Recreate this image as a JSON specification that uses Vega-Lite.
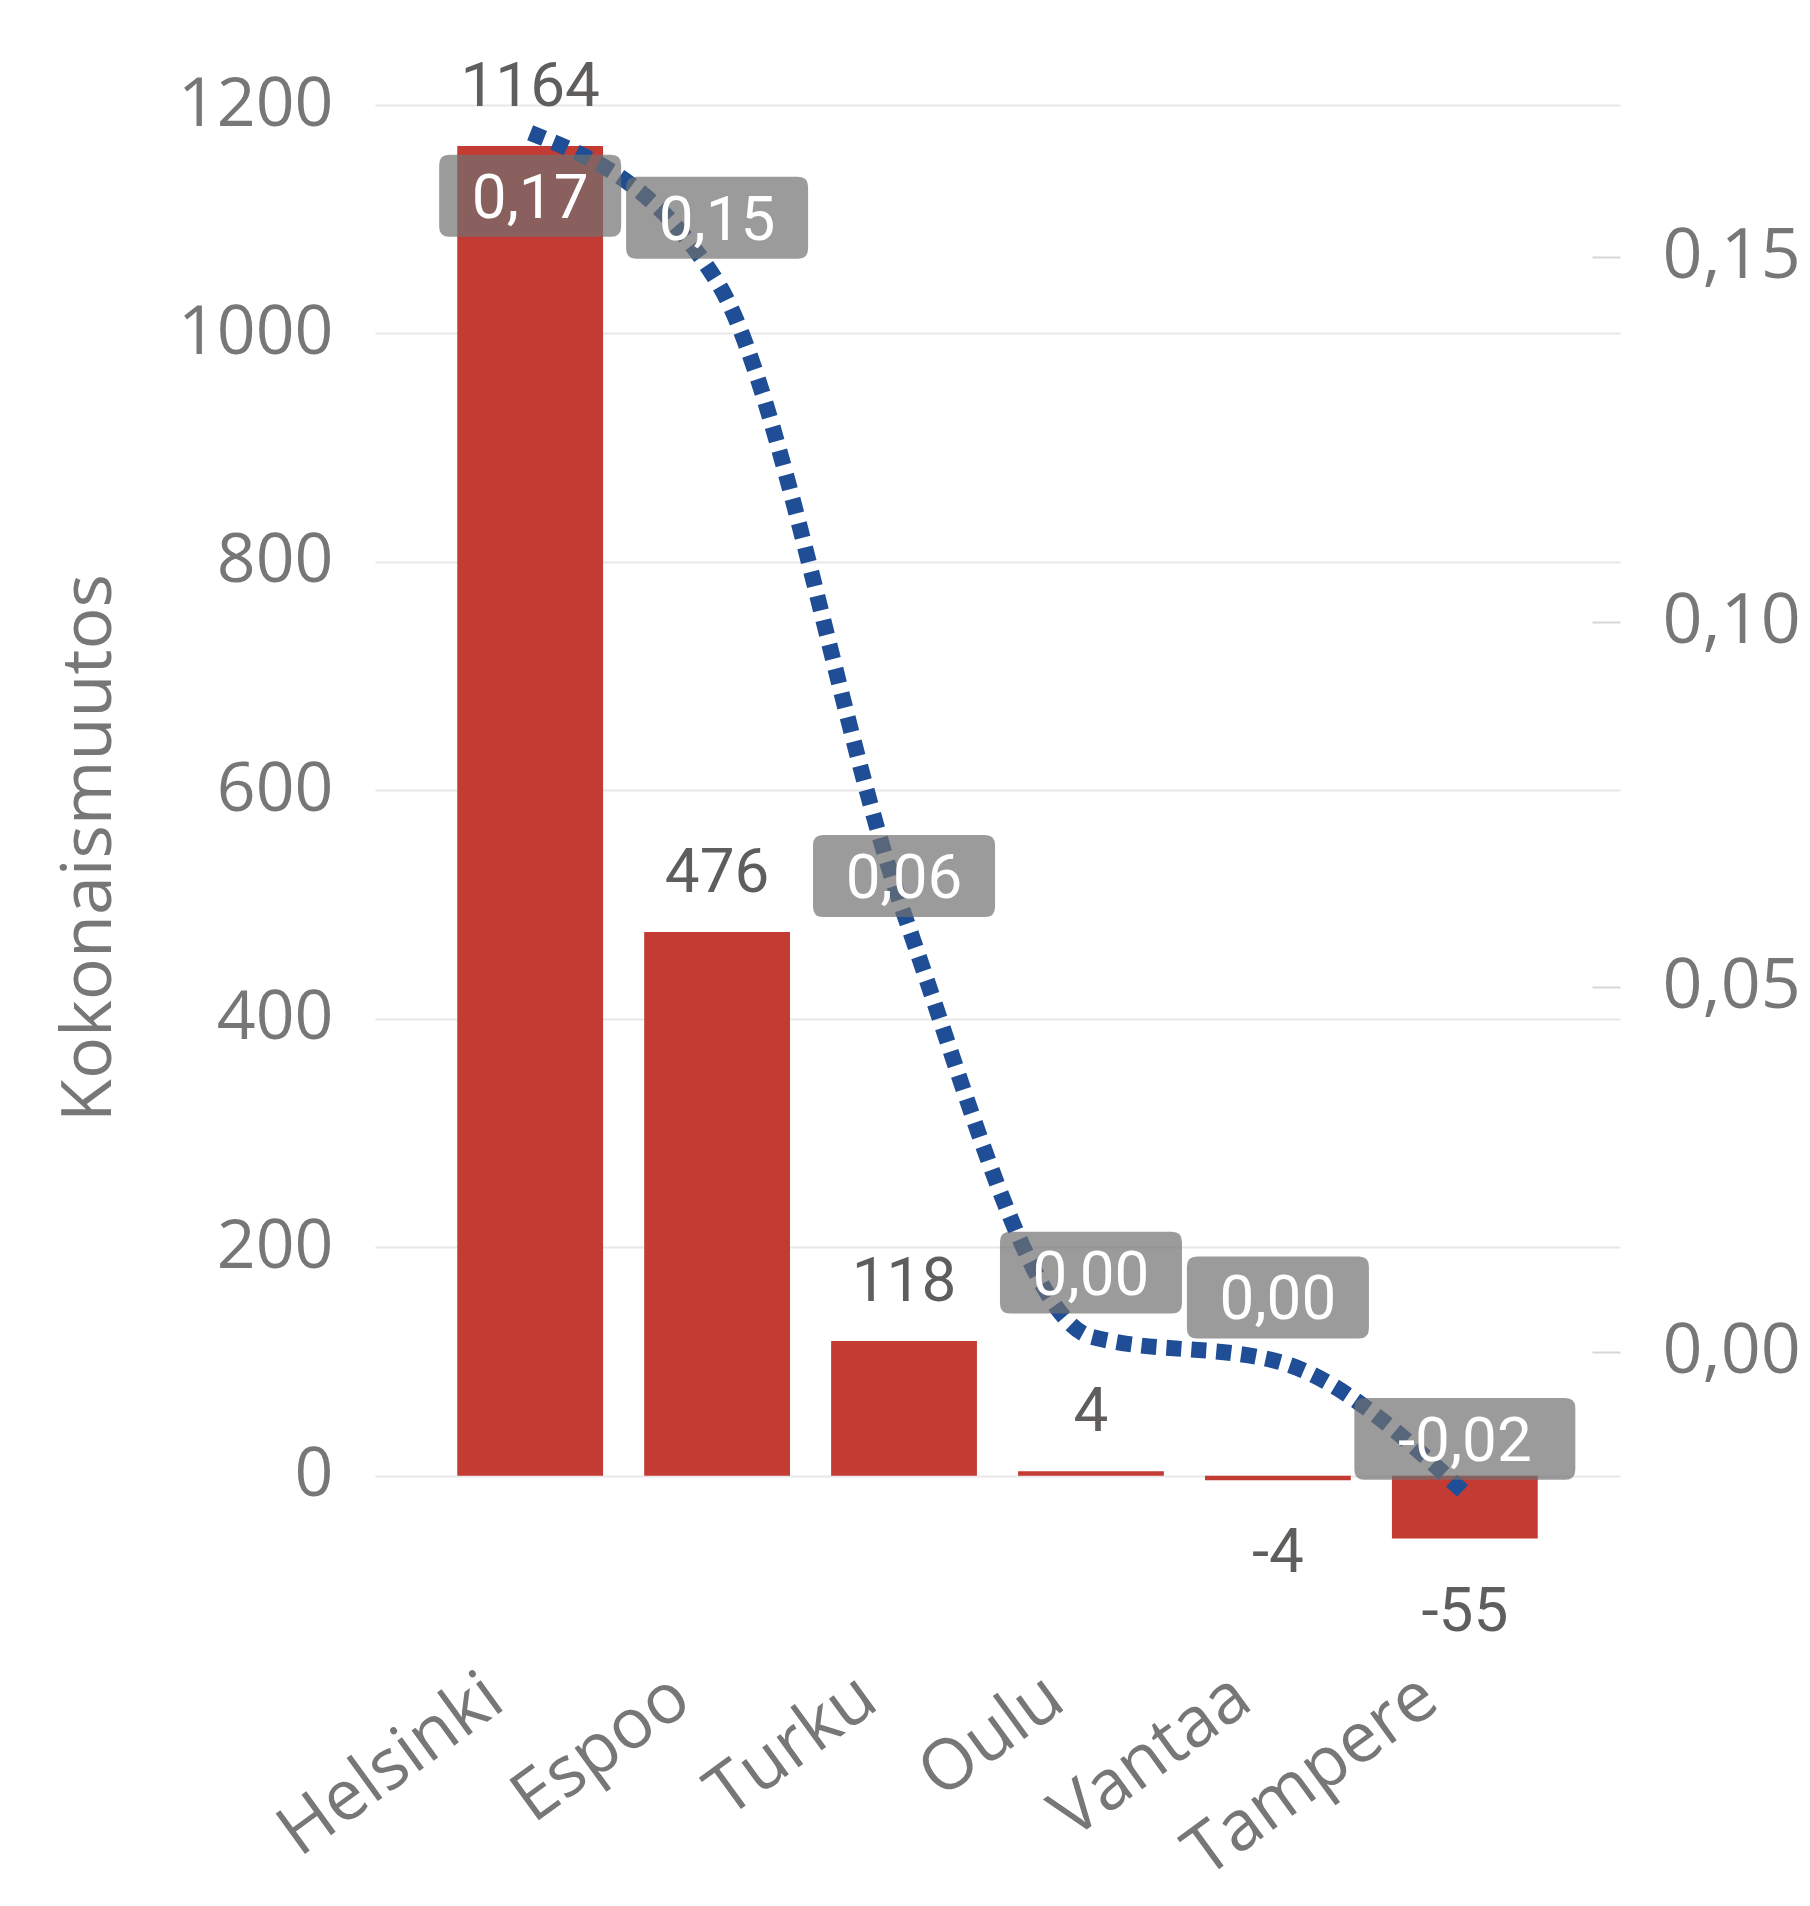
{
  "$schema": "https://vega.github.io/schema/vega-lite/v6.json",
  "width": 1245,
  "height": 1485,
  "autosize": {"type": "none"},
  "padding": {"left": 375, "top": 105, "right": 190, "bottom": 316},
  "background": "white",
  "config": {
    "view": {"stroke": null},
    "font": "Open Sans",
    "locale": {
      "number": {"decimal": ",", "thousands": " ", "grouping": [3], "currency": ["", " €"], "minus": "-"}
    }
  },
  "data": {
    "values": [
      {"kaupunki": "Helsinki", "muutos": 1164, "osuus": 0.167},
      {"kaupunki": "Espoo", "muutos": 476, "osuus": 0.1466},
      {"kaupunki": "Turku", "muutos": 118, "osuus": 0.06},
      {"kaupunki": "Oulu", "muutos": 4, "osuus": 0.0021},
      {"kaupunki": "Vantaa", "muutos": -4, "osuus": -0.0013},
      {"kaupunki": "Tampere", "muutos": -55, "osuus": -0.0193}
    ]
  },
  "encoding": {
    "x": {
      "field": "kaupunki",
      "type": "nominal",
      "sort": null,
      "scale": {"paddingInner": 0.22, "paddingOuter": 0.44},
      "axis": {
        "title": null,
        "domain": false,
        "ticks": false,
        "labelAngle": -36,
        "labelFontSize": 70,
        "labelColor": "#777777",
        "labelLimit": 500,
        "labelPadding": 72,
        "labelOffset": -55
      }
    }
  },
  "layer": [
    {
      "encoding": {
        "y": {
          "field": "muutos",
          "type": "quantitative",
          "scale": {"domain": [-100, 1200], "nice": false},
          "axis": {
            "orient": "left",
            "values": [0, 200, 400, 600, 800, 1000, 1200],
            "format": "d",
            "grid": true,
            "gridColor": "#e8e8e8",
            "gridWidth": 2,
            "domain": false,
            "ticks": false,
            "labelFontSize": 68,
            "labelColor": "#777777",
            "labelPadding": 42,
            "title": "Kokonaismuutos",
            "titleFontSize": 70,
            "titleFontWeight": "normal",
            "titleColor": "#777777",
            "titlePadding": 52
          }
        }
      },
      "layer": [
        {"mark": {"type": "bar", "color": "#c43b33"}},
        {
          "mark": {
            "type": "text",
            "font": "Roboto",
            "fontSize": 62,
            "color": "#605e5c",
            "baseline": "alphabetic",
            "dy": {"expr": "datum.muutos < 0 ? 92 : -40"}
          },
          "encoding": {"text": {"field": "muutos", "type": "quantitative", "format": "d"}}
        }
      ]
    },
    {
      "encoding": {
        "y": {
          "field": "osuus",
          "type": "quantitative",
          "scale": {"domain": [-0.0326, 0.1708], "nice": false},
          "axis": {
            "orient": "right",
            "values": [0, 0.05, 0.1, 0.15],
            "format": ".2f",
            "grid": false,
            "domain": false,
            "ticks": true,
            "tickSize": 28,
            "tickWidth": 2,
            "tickColor": "#d6d6d6",
            "offset": -28,
            "labelFontSize": 70,
            "labelColor": "#777777",
            "labelPadding": 42,
            "title": null
          }
        }
      },
      "layer": [
        {
          "mark": {
            "type": "line",
            "interpolate": "monotone",
            "strokeDash": [15, 10],
            "strokeWidth": 16,
            "color": "#1f4e96"
          }
        },
        {
          "mark": {
            "type": "point",
            "filled": true,
            "fill": "#707070",
            "opacity": 0.7,
            "strokeWidth": 0,
            "size": 33124,
            "shape": {"expr": "datum.osuus < -0.01 ? 'M-1.104,-0.45L1.104,-0.45Q1.214,-0.45,1.214,-0.34L1.214,0.34Q1.214,0.45,1.104,0.45L-1.104,0.45Q-1.214,0.45,-1.214,0.34L-1.214,-0.34Q-1.214,-0.45,-1.104,-0.45Z' : 'M-0.89,-0.45L0.89,-0.45Q1,-0.45,1,-0.34L1,0.34Q1,0.45,0.89,0.45L-0.89,0.45Q-1,0.45,-1,0.34L-1,-0.34Q-1,-0.45,-0.89,-0.45Z'"},
            "yOffset": {"expr": "datum.kaupunki == 'Helsinki' ? 63 : datum.kaupunki == 'Turku' ? -38 : datum.kaupunki == 'Tampere' ? -54 : -64"}
          }
        },
        {
          "mark": {
            "type": "text",
            "font": "Roboto",
            "fontSize": 62,
            "color": "white",
            "baseline": "middle",
            "align": "center",
            "dy": 3,
            "text": {"expr": "format(abs(datum.osuus) < 0.005 ? 0 : datum.osuus, '.2f')"},
            "yOffset": {"expr": "datum.kaupunki == 'Helsinki' ? 63 : datum.kaupunki == 'Turku' ? -38 : datum.kaupunki == 'Tampere' ? -54 : -64"}
          }
        }
      ]
    }
  ],
  "resolve": {"scale": {"y": "independent"}}
}
